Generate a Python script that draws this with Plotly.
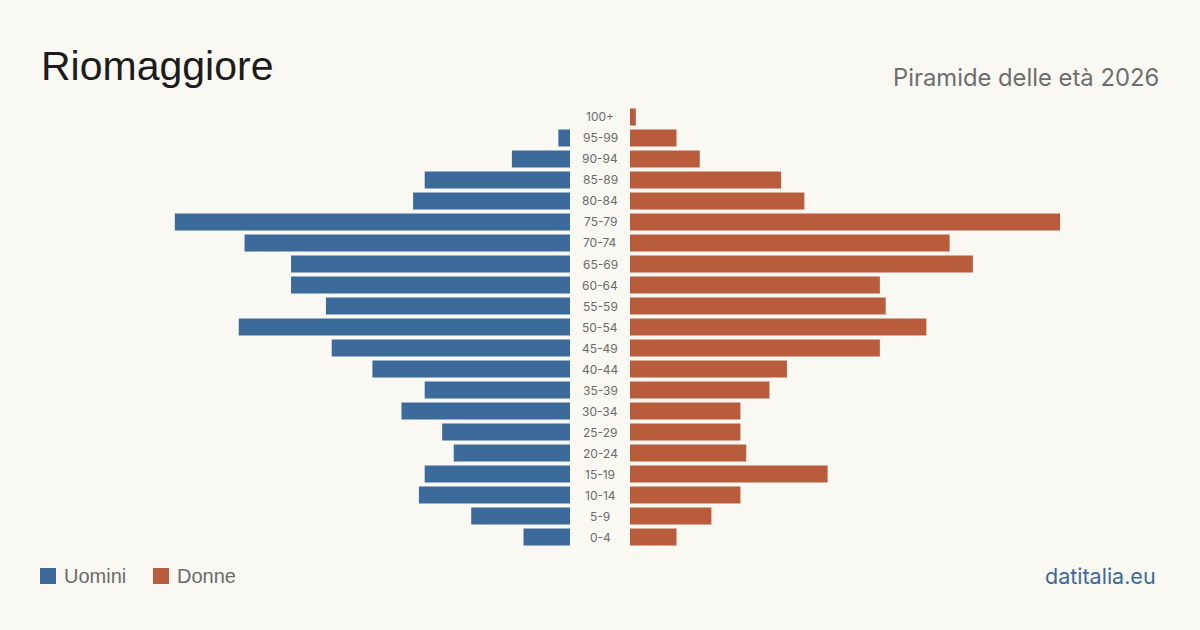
import plotly.graph_objects as go

age_groups = ["0-4", "5-9", "10-14", "15-19", "20-24", "25-29", "30-34", "35-39",
              "40-44", "45-49", "50-54", "55-59", "60-64", "65-69", "70-74",
              "75-79", "80-84", "85-89", "90-94", "95-99", "100+"]
uomini = [8, 17, 26, 25, 20, 22, 29, 25, 34, 41, 57, 42, 48, 48, 56, 68, 27, 25, 10, 2, 0]
donne = [8, 14, 19, 34, 20, 19, 19, 24, 27, 43, 51, 44, 43, 59, 55, 74, 30, 26, 12, 8, 1]

title_text = "Riomaggiore"
subtitle_text = "Piramide delle età 2026"
source_text = "datitalia.eu"

BLUE = "#3b6a9b"
ORANGE = "#b95c3c"
BG = "#f9f8f3"
W, H = 1200, 630
XMAX = 91.2

fig = go.Figure()
fig.add_trace(go.Bar(y=age_groups, x=uomini, orientation="h",
                     marker=dict(color=BLUE, line=dict(width=0)),
                     width=0.81, xaxis="x", yaxis="y", name="Uomini",
                     hoverinfo="x+y"))
fig.add_trace(go.Bar(y=age_groups, x=donne, orientation="h",
                     marker=dict(color=ORANGE, line=dict(width=0)),
                     width=0.81, xaxis="x2", yaxis="y", name="Donne",
                     hoverinfo="x+y"))

y_dom = [(H - 547.5) / H, (H - 106.5) / H]
fig.update_layout(
    width=W, height=H,
    margin=dict(l=0, r=0, t=0, b=0),
    paper_bgcolor=BG, plot_bgcolor=BG,
    showlegend=False,
    barmode="overlay",
    xaxis=dict(domain=[40 / W, 570 / W], range=[XMAX, 0], visible=False, fixedrange=True),
    xaxis2=dict(domain=[630 / W, 1160 / W], range=[0, XMAX], visible=False, fixedrange=True),
    yaxis=dict(domain=y_dom, range=[-0.5, len(age_groups) - 0.5], visible=False,
               categoryorder="array", categoryarray=age_groups, fixedrange=True),
)

annotations = []
for ag in age_groups:
    annotations.append(dict(x=600 / W, xref="paper", y=ag, yref="y", text=ag,
                            showarrow=False, xanchor="center", yanchor="middle",
                            font=dict(family="Inter, sans-serif", size=12, color="#6b6b6b")))
annotations.append(dict(x=39 / W, y=(H - 66) / H, xref="paper", yref="paper", text=title_text,
                        showarrow=False, xanchor="left", yanchor="middle",
                        font=dict(family="Liberation Sans, Arial, sans-serif", size=41, color="#1c1c1c")))
annotations.append(dict(x=1161 / W, y=(H - 77) / H, xref="paper", yref="paper", text=subtitle_text,
                        showarrow=False, xanchor="right", yanchor="middle",
                        font=dict(family="Inter, sans-serif", size=23.8, color="#6e6e6e")))
annotations.append(dict(x=1158 / W, y=(H - 576) / H, xref="paper", yref="paper", text=source_text,
                        showarrow=False, xanchor="right", yanchor="middle",
                        font=dict(family="Inter, sans-serif", size=21.5, color="#3b6a9b")))
annotations.append(dict(x=62 / W, y=(H - 576) / H, xref="paper", yref="paper", text="Uomini",
                        showarrow=False, xanchor="left", yanchor="middle",
                        font=dict(family="Liberation Sans, Arial, sans-serif", size=20, color="#6b6b6b")))
annotations.append(dict(x=175 / W, y=(H - 576) / H, xref="paper", yref="paper", text="Donne",
                        showarrow=False, xanchor="left", yanchor="middle",
                        font=dict(family="Liberation Sans, Arial, sans-serif", size=20, color="#6b6b6b")))
fig.update_layout(annotations=annotations)

shapes = [
    dict(type="rect", xref="paper", yref="paper", x0=40 / W, x1=56 / W,
         y0=(H - 584) / H, y1=(H - 568) / H, fillcolor=BLUE, line=dict(width=0)),
    dict(type="rect", xref="paper", yref="paper", x0=153 / W, x1=169 / W,
         y0=(H - 584) / H, y1=(H - 568) / H, fillcolor=ORANGE, line=dict(width=0)),
]
fig.update_layout(shapes=shapes)

fig.write_html("out.html", config={"displayModeBar": False})
